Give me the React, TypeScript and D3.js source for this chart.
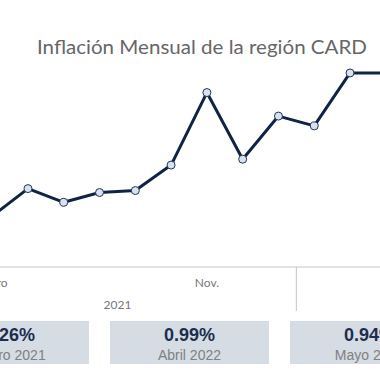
import React from "react";
import * as d3 from "d3";

const title = "Inflación Mensual de la región CARD";
// monthly inflation (%) per plotted period, index 0 = Enero 2021
const periodIndex = [0, 1, 2, 3, 4, 5, 6, 7, 8, 9, 10, 11];
const inflation = [0.26, 0.4, 0.33, 0.38, 0.39, 0.52, 0.89, 0.55, 0.77, 0.72, 0.99, 0.99];
const monthTicks = [
  { i: 0, label: "Enero" },
  { i: 6, label: "Nov." },
];
const yearLabels = [{ at: 3.5, label: "2021" }];
const yearDividers = [8.5];
const cardValues = ["0.26%", "0.99%", "0.94%"];
const cardLabels = ["Enero 2021", "Abril 2022", "Mayo 2022"];

const W = 380;
const H = 380;

export default function App() {
  const x = d3.scaleLinear().domain([0, 11]).range([-7.8, 385.8]);
  const y = d3.scaleLinear().domain([0, 1]).range([267, 71]);
  const pts = periodIndex.map((i, k) => [x(i), y(inflation[k])] as [number, number]);
  const line = d3.line()(pts) as string;
  const cardX = d3.scaleLinear().domain([0, 1]).range([-70, 110]);
  const cardW = 159;
  const gothic = "'Century Gothic', Lato, 'DejaVu Sans', sans-serif";
  return (
    <svg
      width={W}
      height={H}
      style={{ position: "absolute", left: 0, top: 0, background: "#fff" }}
    >
      <text
        x={202}
        y={54}
        textAnchor="middle"
        fontFamily={gothic}
        fontSize={18.5}
        fill="#666"
        textLength={330}
        lengthAdjust="spacingAndGlyphs"
      >
        {title}
      </text>
      <line x1={0} x2={W} y1={y(0)} y2={y(0)} stroke="#c6c6c6" strokeWidth={1} />
      {yearDividers.map((d, k) => (
        <line key={k} x1={x(d)} x2={x(d)} y1={y(0)} y2={311} stroke="#c6c6c6" strokeWidth={1} />
      ))}
      {monthTicks.map((t) => (
        <text
          key={t.i}
          x={x(t.i)}
          y={287}
          textAnchor="middle"
          fontFamily={gothic}
          fontSize={12}
          fill="#777"
        >
          {t.label}
        </text>
      ))}
      {yearLabels.map((t) => (
        <text
          key={t.label}
          x={x(t.at)}
          y={309}
          textAnchor="middle"
          fontFamily={gothic}
          fontSize={12}
          fill="#777"
        >
          {t.label}
        </text>
      ))}
      <path d={line} fill="none" stroke="#0f2444" strokeWidth={3} strokeLinejoin="round" />
      {pts.map((p, k) => (
        <circle key={k} cx={p[0]} cy={p[1]} r={4} fill="#d9e1ee" stroke="#1f3559" strokeWidth={1} />
      ))}
      {cardValues.map((v, k) => {
        const cx = cardX(k) + cardW / 2;
        return (
          <g key={k}>
            <rect x={cardX(k)} y={321} width={cardW} height={43} fill="#d6dce4" />
            <text
              x={cx}
              y={341}
              textAnchor="middle"
              fontFamily="'Liberation Sans', Arial, sans-serif"
              fontWeight="bold"
              fontSize={18}
              fill="#1b2e4f"
            >
              {v}
            </text>
            <text
              x={cx}
              y={360}
              textAnchor="middle"
              fontFamily="'Liberation Sans', Arial, sans-serif"
              fontSize={14}
              fill="#808080"
            >
              {cardLabels[k]}
            </text>
          </g>
        );
      })}
    </svg>
  );
}
